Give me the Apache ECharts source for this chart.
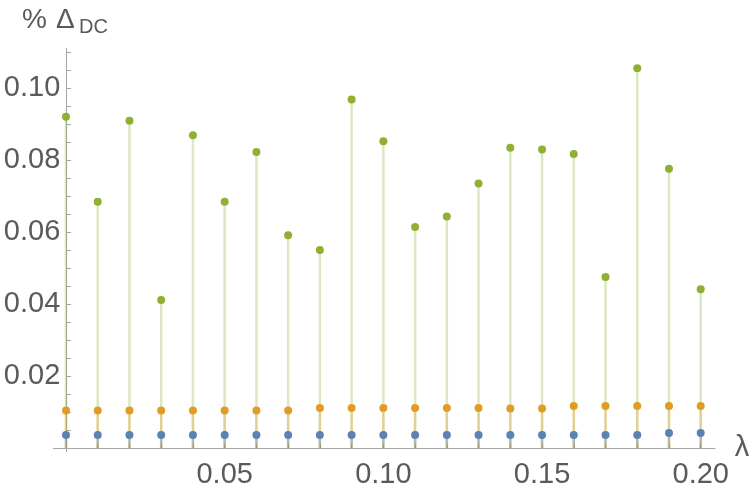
<!DOCTYPE html>
<html>
<head>
<meta charset="utf-8">
<script src="https://cdn.jsdelivr.net/npm/echarts@6/dist/echarts.min.js"></script>
<style>
  html, body { margin: 0; padding: 0; background: #fff; }
  #chart { width: 750px; height: 492px; }
</style>
</head>
<body>
<div id="chart"></div>
<script>
// lambda values on the x axis
const lambda = [0, 0.01, 0.02, 0.03, 0.04, 0.05, 0.06, 0.07, 0.08, 0.09, 0.10,
  0.11, 0.12, 0.13, 0.14, 0.15, 0.16, 0.17, 0.18, 0.19, 0.20]

// % Delta_DC, three series
const dcGreen = [0.0920, 0.0684, 0.0909, 0.0411, 0.0869, 0.0684, 0.0822, 0.0591, 0.0550, 0.0968, 0.0852,
  0.0614, 0.0643, 0.0735, 0.0834, 0.0829, 0.0817, 0.0475, 0.1055, 0.0776, 0.0441]
const dcOrange = [0.0104, 0.0104, 0.0104, 0.0104, 0.0104, 0.0104, 0.0104, 0.0104, 0.0111, 0.0111, 0.0111,
  0.0111, 0.0111, 0.0111, 0.0110, 0.0110, 0.0117, 0.0117, 0.0117, 0.0117, 0.0117]
const dcBlue = [0.0036, 0.0036, 0.0036, 0.0036, 0.0036, 0.0036, 0.0036, 0.0036, 0.0036, 0.0036, 0.0036,
  0.0036, 0.0036, 0.0036, 0.0036, 0.0036, 0.0036, 0.0036, 0.0036, 0.0042, 0.0042]

// tick labels
const xLabelValues = [0.05, 0.10, 0.15, 0.20]
const yLabelValues = [0.02, 0.04, 0.06, 0.08, 0.10]
const yTickValues = [0.005, 0.01, 0.015, 0.02, 0.025, 0.03, 0.035, 0.04, 0.045, 0.05, 0.055,
  0.06, 0.065, 0.07, 0.075, 0.08, 0.085, 0.09, 0.095, 0.10, 0.105, 0.11]

const font = 'Liberation Sans, Arial, sans-serif'
const textColor = '#5a5a5a'
const axisColor = '#a6a6a6'

function pairs(values) {
  return lambda.map((x, i) => [x, values[i]])
}

function stems(name, color, values) {
  return {
    name: name, type: 'bar',
    barWidth: 2.5, barGap: '-100%',
    itemStyle: { color: color, opacity: 0.3 },
    data: pairs(values), z: 1, silent: true
  }
}

function dots(name, color, values) {
  return {
    name: name, type: 'scatter',
    symbolSize: 8,
    itemStyle: { color: color, opacity: 1 },
    data: pairs(values), z: 3
  }
}

function label(text, left, top, size) {
  return { text: text, left: left, top: top, padding: 0,
    textStyle: { fontFamily: font, fontSize: size, fontWeight: 'normal', color: textColor } }
}

const chart = echarts.init(document.getElementById('chart'))
chart.setOption({
  animation: false,
  // axis title "% Δ_DC"
  title: [
    label('%', 22, 6, 28),
    label('Δ', 56, 6, 28),
    label('DC', 79, 17, 20)
  ],
  grid: { left: 53.3, right: 35, top: 48.4, bottom: 40.4, outerBoundsMode: 'none', containLabel: false },
  xAxis: {
    type: 'value', min: -0.004, max: 0.2045,
    name: 'λ', nameLocation: 'end', nameGap: 17,
    nameTextStyle: { fontFamily: font, fontSize: 29, color: textColor, padding: [26, 0, 0, 0] },
    axisLine: { onZero: true, lineStyle: { color: axisColor, width: 1 } },
    axisTick: { show: true, inside: true, length: 4, customValues: lambda.slice(1), lineStyle: { color: axisColor } },
    axisLabel: { customValues: xLabelValues, margin: 9, fontFamily: font, fontSize: 29, color: textColor,
      formatter: v => v.toFixed(2) },
    splitLine: { show: false }
  },
  yAxis: {
    type: 'value', min: -0.001, max: 0.111,
    axisLine: { show: true, onZero: true, lineStyle: { color: axisColor, width: 1 } },
    axisTick: { show: true, inside: true, length: 5, customValues: yTickValues, lineStyle: { color: axisColor } },
    axisLabel: { customValues: yLabelValues, margin: -7, fontFamily: font, fontSize: 29, color: textColor,
      formatter: v => v.toFixed(2) },
    splitLine: { show: false }
  },
  series: [
    stems('green', '#8fb032', dcGreen),
    stems('orange', '#e19c24', dcOrange),
    stems('blue', '#5e81b5', dcBlue),
    dots('green', '#8fb032', dcGreen),
    dots('orange', '#e19c24', dcOrange),
    dots('blue', '#5e81b5', dcBlue)
  ]
})
</script>
</body>
</html>
